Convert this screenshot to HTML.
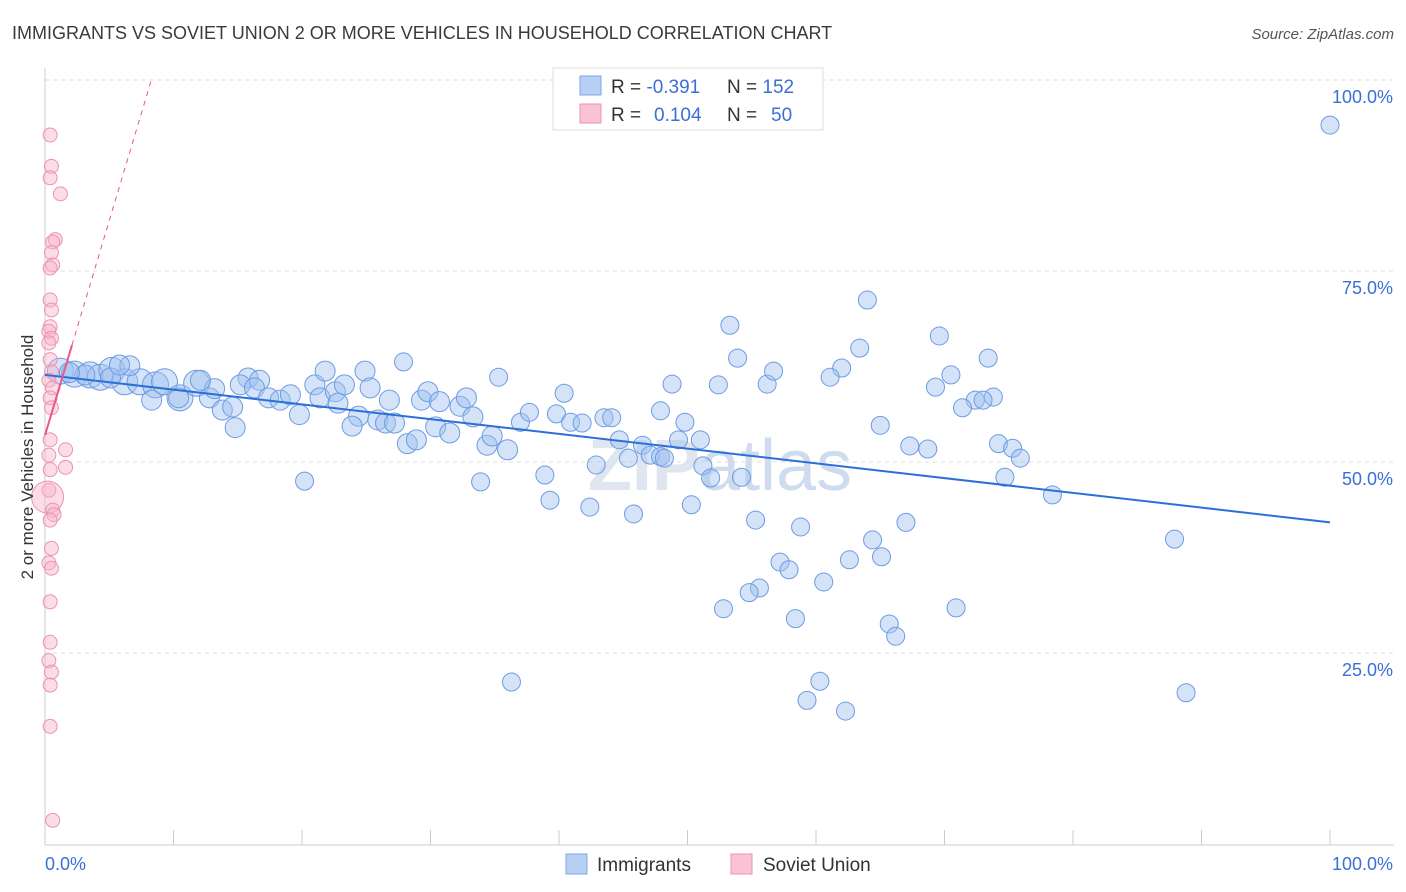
<!DOCTYPE html>
<html><head><meta charset="utf-8"><style>
body{margin:0;background:#fff;font-family:"Liberation Sans",sans-serif;}
svg{display:block}
</style></head><body>
<svg id="chart" width="1406" height="892" xmlns="http://www.w3.org/2000/svg">
<text x="12" y="39" font-size="18" fill="#3a3a3a">IMMIGRANTS VS SOVIET UNION 2 OR MORE VEHICLES IN HOUSEHOLD CORRELATION CHART</text>
<text x="1394" y="39" font-size="15" fill="#555" text-anchor="end" font-style="italic">Source: ZipAtlas.com</text>
<text x="720" y="490" font-size="72" fill="#dfe6f0" text-anchor="middle" font-weight="bold">ZIP<tspan font-weight="normal" fill="#cfdcef">atlas</tspan></text>
<g id="grid"></g><g id="axes"></g><g id="marks"></g>
<text transform="translate(33,457) rotate(-90)" font-size="17" fill="#333" text-anchor="middle">2 or more Vehicles in Household</text>
<g>
<rect x="553" y="68" width="270" height="62" fill="#fff" stroke="#ddd"/>
<rect x="580" y="76" width="21" height="19" fill="#b8d0f4" stroke="#7ea6e6"/>
<rect x="580" y="104" width="21" height="19" fill="#f9c3d4" stroke="#ee93b1"/>
<text x="611" y="93" font-size="19" fill="#333">R = <tspan fill="#3b6fd6">-0.391</tspan><tspan x="727">N = </tspan><tspan fill="#3b6fd6">152</tspan></text>
<text x="611" y="121" font-size="19" fill="#333">R = <tspan fill="#3b6fd6" x="654">0.104</tspan><tspan x="727">N = </tspan><tspan fill="#3b6fd6" x="771">50</tspan></text>
</g>
<g>
<rect x="566" y="854" width="21" height="20" fill="#b8d0f4" stroke="#7ea6e6"/>
<text x="597" y="871" font-size="19" fill="#333">Immigrants</text>
<rect x="731" y="854" width="21" height="20" fill="#f9c3d4" stroke="#ee93b1"/>
<text x="763" y="871" font-size="19" fill="#333">Soviet Union</text>
</g>
</svg>
<script>
const blueX=[1.2,2.3,3.5,4.3,5.2,6.2,7.4,8.6,9.3,10.5,11.8,8.3,10.4,12.8,13.8,14.8,15.8,16.7,15.2,16.3,17.4,18.3,19.1,19.8,21.0,21.8,21.4,22.6,23.3,22.8,24.9,25.3,24.4,23.9,25.9,26.5,27.2,26.8,28.2,28.9,29.3,29.8,30.7,30.4,31.5,32.3,32.8,33.3,34.4,34.8,36.0,14.6,13.2,12.1,5.1,6.6,5.8,3.1,1.9,
51.2,51.8,54.2,42.9,38.9,39.3,42.4,45.8,50.3,55.3,58.8,67.0,64.4,62.6,65.1,57.2,57.9,60.6,55.6,54.8,52.8,58.4,70.9,65.7,66.2,60.3,59.3,62.3,
44.7,46.5,49.3,51.0,47.1,47.9,48.2,45.4,67.3,68.7,74.2,75.3,75.9,74.7,78.4,87.9,88.8,37.0,37.7,39.8,40.9,41.8,43.5,44.1,47.9,49.8,65.0,40.4,73.8,72.4,73.0,71.4,48.8,52.4,56.2,69.3,35.3,56.7,62.0,70.5,61.1,27.9,53.9,63.4,73.4,53.3,69.6,64.0,100,33.9,36.3,20.2];
const blueY=[61.9,61.5,61.4,61.1,62.0,60.5,60.5,60.1,60.5,58.4,60.3,58.1,58.4,58.4,56.8,54.5,61.0,60.7,60.1,59.7,58.4,58.1,58.8,56.2,60.1,61.9,58.4,59.2,60.1,57.7,61.9,59.7,56.0,54.7,55.5,55.1,55.1,58.1,52.4,52.9,58.1,59.2,57.9,54.6,53.8,57.3,58.4,55.9,52.2,53.4,51.6,57.2,59.6,60.7,61.0,62.6,62.7,61.4,61.7,
49.5,47.9,48.0,49.6,48.3,45.0,44.1,43.2,44.4,42.4,41.5,42.1,39.8,37.2,37.6,36.9,35.9,34.3,33.5,32.9,30.8,29.5,30.9,28.8,27.2,21.3,18.8,17.4,
52.9,52.2,52.9,52.9,50.9,50.7,50.5,50.5,52.1,51.7,52.4,51.8,50.5,48.0,45.7,39.9,19.8,55.2,56.5,56.3,55.2,55.1,55.8,55.8,56.7,55.2,54.8,59.0,58.5,58.1,58.1,57.1,60.2,60.1,60.2,59.8,61.1,61.9,62.3,61.4,61.1,63.1,63.6,64.9,63.6,67.9,66.5,71.2,94.1,47.4,21.2,47.5];
const pinkX=[0.4,0.5,0.4,1.2,0.8,0.6,0.5,0.6,0.4,0.4,0.5,0.4,0.3,0.5,0.3,0.4,0.5,0.3,0.6,0.4,0.5,0.4,1.6,0.3,1.6,0.4,0.3,0.2,0.6,0.7,0.4,0.5,0.3,0.5,0.4,0.4,0.3,0.5,0.4,0.4,0.6];
const pinkY=[92.8,88.7,87.2,85.1,79.1,78.8,77.4,75.8,75.4,71.2,69.9,67.7,67.1,66.2,65.6,63.4,61.8,60.7,59.7,58.4,57.1,52.9,51.6,50.9,49.3,49.0,46.3,45.4,43.7,43.1,42.4,38.7,36.8,36.1,31.7,26.4,24.0,22.5,20.8,15.4,3.1];
const yTicks=[25,50,75,100];
const blueTrend=[61.4,42.1];
const pinkTrend=[53.5,65.3,2.1];
const X=v=>45+v*12.85, Y=v=>844-v*7.64;
const NS="http://www.w3.org/2000/svg";
function mk(t,a,p){const e=document.createElementNS(NS,t);for(const k in a)e.setAttribute(k,a[k]);p.appendChild(e);return e;}
const grid=document.getElementById('grid'),axes=document.getElementById('axes'),marks=document.getElementById('marks');
yTicks.forEach(t=>{const l=mk('line',{x1:45,x2:1394,y1:Y(t),y2:Y(t),stroke:'#ddd','stroke-dasharray':'4,4'},grid);


const tx=mk('text',{x:1393,y:Y(t)+23,'font-size':18,fill:'#3b6fd6','text-anchor':'end'},axes);tx.textContent=t.toFixed(1)+'%';

});
mk('line',{x1:45,x2:45,y1:68,y2:845,stroke:'#ccc'},axes);
mk('line',{x1:45,x2:1394,y1:845,y2:845,stroke:'#ccc'},axes);
for(let i=0;i<=10;i++){mk('line',{x1:X(i*10),x2:X(i*10),y1:830,y2:845,stroke:'#ccc'},axes);}
let t0=mk('text',{x:45,y:870,'font-size':18,fill:'#3b6fd6'},axes);t0.textContent='0.0%';

let t1=mk('text',{x:1393,y:870,'font-size':18,fill:'#3b6fd6','text-anchor':'end'},axes);t1.textContent='100.0%';

const bigIdx=new Set([0,1,2,3,4,5,6,7,8,9,10,11,12]);
blueX.forEach((x,i)=>{const r=i<11?13:(i<59?10:9);const c=mk('circle',{cx:X(x),cy:Y(blueY[i]),r:(i===157?12:r),fill:'rgba(160,192,240,0.45)',stroke:'#6d9be3','stroke-width':1},marks);

});
pinkX.forEach((x,i)=>{const c=mk('circle',{cx:X(x),cy:Y(pinkY[i]),r:(i===27?16:7),fill:'rgba(246,180,200,0.45)',stroke:'#ee93b1','stroke-width':1},marks);

});
const bl=mk('line',{x1:X(0),y1:Y(blueTrend[0]),x2:X(100),y2:Y(blueTrend[1]),stroke:'#2b6fd8','stroke-width':2},marks);

const slope=(pinkTrend[1]-pinkTrend[0])/pinkTrend[2];
const pl=mk('line',{x1:X(0),y1:Y(pinkTrend[0]),x2:X(pinkTrend[2]),y2:Y(pinkTrend[1]),stroke:'#e8588a','stroke-width':2},marks);

const xe=(100-pinkTrend[0])/slope;
const pd=mk('line',{x1:X(pinkTrend[2]),y1:Y(pinkTrend[1]),x2:X(xe),y2:Y(100),stroke:'#e8588a','stroke-width':1,'stroke-dasharray':'5,5'},marks);

</script>
</body></html>
